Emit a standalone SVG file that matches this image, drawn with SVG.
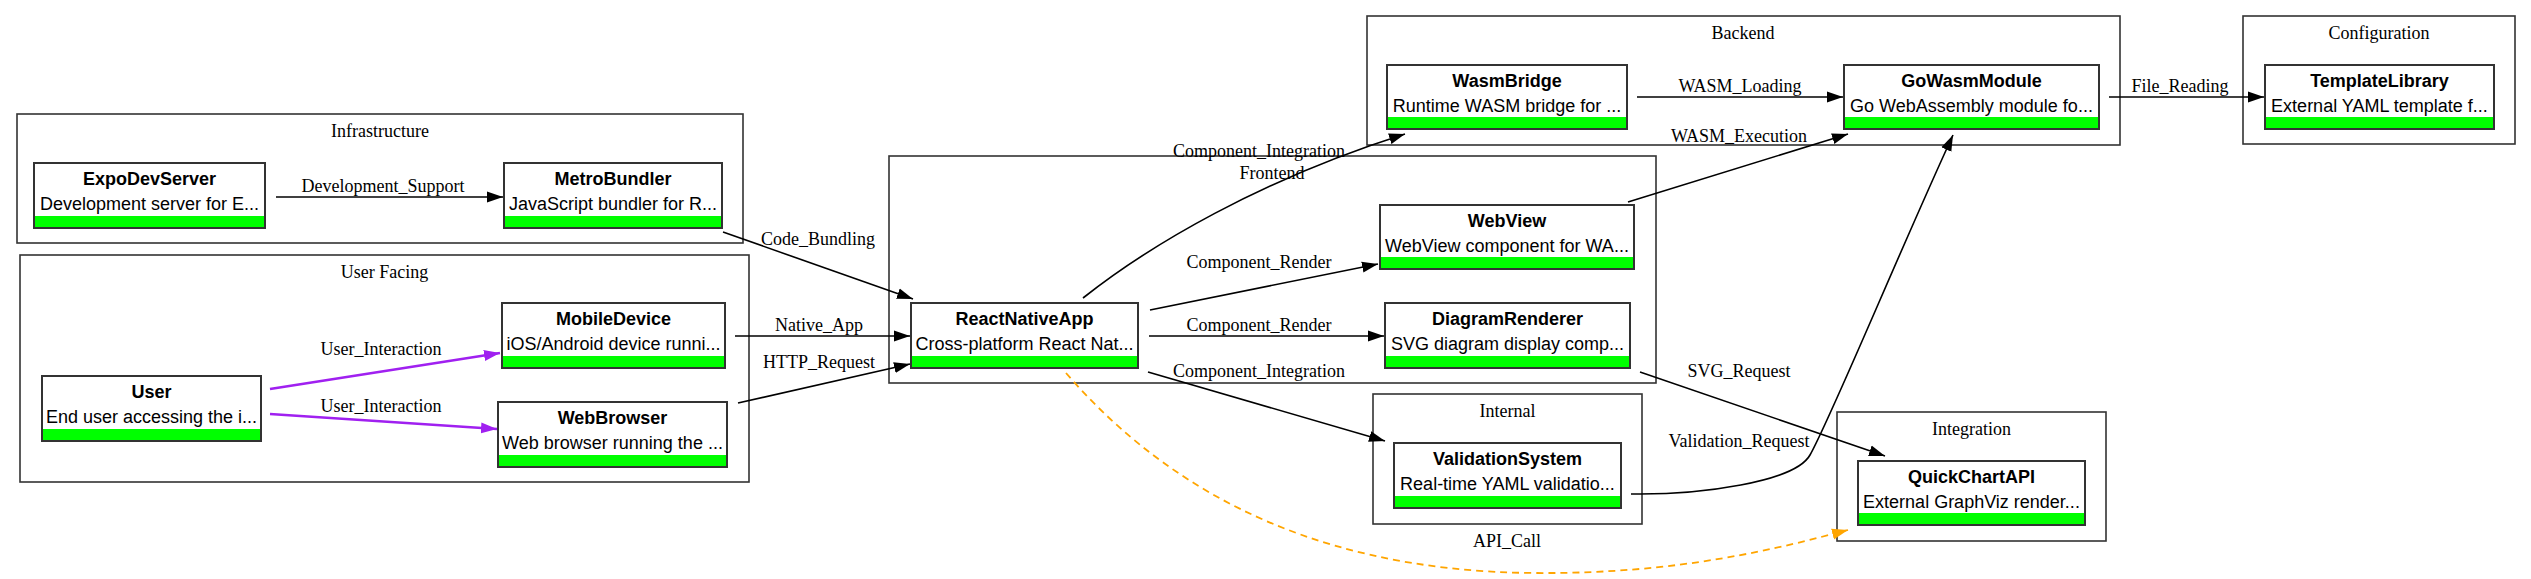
<svg xmlns="http://www.w3.org/2000/svg" width="2531" height="579" viewBox="0 0 2531 579">
<style>
.cl{fill:none;stroke:#333;stroke-width:1.6}
.ct{font-family:"Liberation Serif","Times New Roman",serif;font-size:18px;fill:#000;text-anchor:middle}
.nb{fill:#fff;stroke:#333;stroke-width:2}
.gb{fill:#00ff00}
.nt{font-family:"Liberation Sans",Arial,sans-serif;font-size:18px;font-weight:bold;fill:#000;text-anchor:middle}
.nd{font-family:"Liberation Sans",Arial,sans-serif;font-size:18px;fill:#000;text-anchor:middle}
.e{fill:none;stroke:#000;stroke-width:1.6}
.ep{fill:none;stroke:#a020f0;stroke-width:2.6}
.eo{fill:none;stroke:#ffa500;stroke-width:1.8;stroke-dasharray:7,5}
.el{font-family:"Liberation Serif","Times New Roman",serif;font-size:18px;fill:#000;text-anchor:middle}
</style>
<defs>
<marker id="ab" markerUnits="userSpaceOnUse" markerWidth="16" markerHeight="12" refX="16" refY="6" orient="auto"><path d="M0,0.5 L16,6 L0,11.5 z" fill="#000"/></marker>
<marker id="ap" markerUnits="userSpaceOnUse" markerWidth="16" markerHeight="12" refX="16" refY="6" orient="auto"><path d="M0,0.5 L16,6 L0,11.5 z" fill="#a020f0"/></marker>
<marker id="ao" markerUnits="userSpaceOnUse" markerWidth="16" markerHeight="12" refX="16" refY="6" orient="auto"><path d="M0,0.5 L16,6 L0,11.5 z" fill="#ffa500"/></marker>
</defs>
<rect width="2531" height="579" fill="#fff"/>
<g id="clusters">
<g id="cluster-infrastructure"><rect class="cl" x="17" y="114" width="726" height="129"/><text class="ct" x="380" y="137">Infrastructure</text></g>
<g id="cluster-userfacing"><rect class="cl" x="20" y="255" width="729" height="227"/><text class="ct" x="384.5" y="278">User Facing</text></g>
<g id="cluster-frontend"><rect class="cl" x="889" y="156" width="767" height="227"/><text class="ct" x="1272" y="179">Frontend</text></g>
<g id="cluster-backend"><rect class="cl" x="1367" y="16" width="753" height="129"/><text class="ct" x="1743" y="39">Backend</text></g>
<g id="cluster-configuration"><rect class="cl" x="2243" y="16" width="272" height="128"/><text class="ct" x="2379" y="39">Configuration</text></g>
<g id="cluster-internal"><rect class="cl" x="1373" y="394" width="269" height="130"/><text class="ct" x="1507.5" y="417">Internal</text></g>
<g id="cluster-integration"><rect class="cl" x="1837" y="412" width="269" height="129"/><text class="ct" x="1971.5" y="435">Integration</text></g>
</g>
<g id="connectors">
<path class="e" d="M276,197 L503,197" marker-end="url(#ab)"/><text class="el" x="383" y="192">Development_Support</text>
<path class="ep" d="M270,389 L500,353" marker-end="url(#ap)"/><text class="el" x="381" y="355">User_Interaction</text>
<path class="ep" d="M270,414 L497,429" marker-end="url(#ap)"/><text class="el" x="381" y="412">User_Interaction</text>
<path class="e" d="M723,232 L913,299" marker-end="url(#ab)"/><text class="el" x="818" y="245">Code_Bundling</text>
<path class="e" d="M735,336 L910,336" marker-end="url(#ab)"/><text class="el" x="819" y="331">Native_App</text>
<path class="e" d="M738,403 L910,364" marker-end="url(#ab)"/><text class="el" x="819" y="368">HTTP_Request</text>
<path class="e" d="M1083,298 C1150,245 1260,180 1405,134" marker-end="url(#ab)"/><text class="el" x="1259" y="157">Component_Integration</text>
<path class="e" d="M1150,310 L1378,264" marker-end="url(#ab)"/><text class="el" x="1259" y="268">Component_Render</text>
<path class="e" d="M1149,336 L1384,336" marker-end="url(#ab)"/><text class="el" x="1259" y="331">Component_Render</text>
<path class="e" d="M1148,372 L1385,441" marker-end="url(#ab)"/><text class="el" x="1259" y="377">Component_Integration</text>
<path class="e" d="M1637,97 L1843,97" marker-end="url(#ab)"/><text class="el" x="1740" y="92">WASM_Loading</text>
<path class="e" d="M1628,202 L1848,134" marker-end="url(#ab)"/><text class="el" x="1739" y="142">WASM_Execution</text>
<path class="e" d="M2109,97 L2264,97" marker-end="url(#ab)"/><text class="el" x="2180" y="92">File_Reading</text>
<path class="e" d="M1640,372 L1885,456" marker-end="url(#ab)"/><text class="el" x="1739" y="377">SVG_Request</text>
<path class="e" d="M1631,494 C1700,495 1795,482 1810,455 C1830,420 1900,250 1953,135" marker-end="url(#ab)"/><text class="el" x="1739" y="447">Validation_Request</text>
<path class="eo" d="M1066,373 C1150,470 1290,572 1537,573 C1680,574 1780,548 1848,530" marker-end="url(#ao)"/><text class="el" x="1507" y="547">API_Call</text>
</g>
<g id="node-ExpoDevServer"><rect class="nb" x="34" y="163" width="231" height="65"/><rect class="gb" x="35" y="216" width="229" height="11"/><text class="nt" x="149.5" y="185">ExpoDevServer</text><text class="nd" x="149.5" y="210">Development server for E...</text></g>
<g id="node-MetroBundler"><rect class="nb" x="504" y="163" width="218" height="65"/><rect class="gb" x="505" y="216" width="216" height="11"/><text class="nt" x="613" y="185">MetroBundler</text><text class="nd" x="613" y="210">JavaScript bundler for R...</text></g>
<g id="node-User"><rect class="nb" x="42" y="376" width="219" height="65"/><rect class="gb" x="43" y="429" width="217" height="11"/><text class="nt" x="151.5" y="398">User</text><text class="nd" x="151.5" y="423">End user accessing the i...</text></g>
<g id="node-MobileDevice"><rect class="nb" x="502" y="303" width="223" height="65"/><rect class="gb" x="503" y="356" width="221" height="11"/><text class="nt" x="613.5" y="325">MobileDevice</text><text class="nd" x="613.5" y="350">iOS/Android device runni...</text></g>
<g id="node-WebBrowser"><rect class="nb" x="498" y="402" width="229" height="65"/><rect class="gb" x="499" y="455" width="227" height="11"/><text class="nt" x="612.5" y="424">WebBrowser</text><text class="nd" x="612.5" y="449">Web browser running the ...</text></g>
<g id="node-ReactNativeApp"><rect class="nb" x="911" y="303" width="227" height="65"/><rect class="gb" x="912" y="356" width="225" height="11"/><text class="nt" x="1024.5" y="325">ReactNativeApp</text><text class="nd" x="1024.5" y="350">Cross-platform React Nat...</text></g>
<g id="node-WebView"><rect class="nb" x="1380" y="205" width="254" height="64"/><rect class="gb" x="1381" y="257" width="252" height="11"/><text class="nt" x="1507" y="227">WebView</text><text class="nd" x="1507" y="252">WebView component for WA...</text></g>
<g id="node-DiagramRenderer"><rect class="nb" x="1385" y="303" width="245" height="65"/><rect class="gb" x="1386" y="356" width="243" height="11"/><text class="nt" x="1507.5" y="325">DiagramRenderer</text><text class="nd" x="1507.5" y="350">SVG diagram display comp...</text></g>
<g id="node-ValidationSystem"><rect class="nb" x="1394" y="443" width="227" height="65"/><rect class="gb" x="1395" y="496" width="225" height="11"/><text class="nt" x="1507.5" y="465">ValidationSystem</text><text class="nd" x="1507.5" y="490">Real-time YAML validatio...</text></g>
<g id="node-WasmBridge"><rect class="nb" x="1387" y="65" width="240" height="64"/><rect class="gb" x="1388" y="117" width="238" height="11"/><text class="nt" x="1507" y="87">WasmBridge</text><text class="nd" x="1507" y="112">Runtime WASM bridge for ...</text></g>
<g id="node-GoWasmModule"><rect class="nb" x="1844" y="65" width="255" height="64"/><rect class="gb" x="1845" y="117" width="253" height="11"/><text class="nt" x="1971.5" y="87">GoWasmModule</text><text class="nd" x="1971.5" y="112">Go WebAssembly module fo...</text></g>
<g id="node-TemplateLibrary"><rect class="nb" x="2265" y="65" width="229" height="64"/><rect class="gb" x="2266" y="117" width="227" height="11"/><text class="nt" x="2379.5" y="87">TemplateLibrary</text><text class="nd" x="2379.5" y="112">External YAML template f...</text></g>
<g id="node-QuickChartAPI"><rect class="nb" x="1858" y="461" width="227" height="64"/><rect class="gb" x="1859" y="513" width="225" height="11"/><text class="nt" x="1971.5" y="483">QuickChartAPI</text><text class="nd" x="1971.5" y="508">External GraphViz render...</text></g>
</svg>
